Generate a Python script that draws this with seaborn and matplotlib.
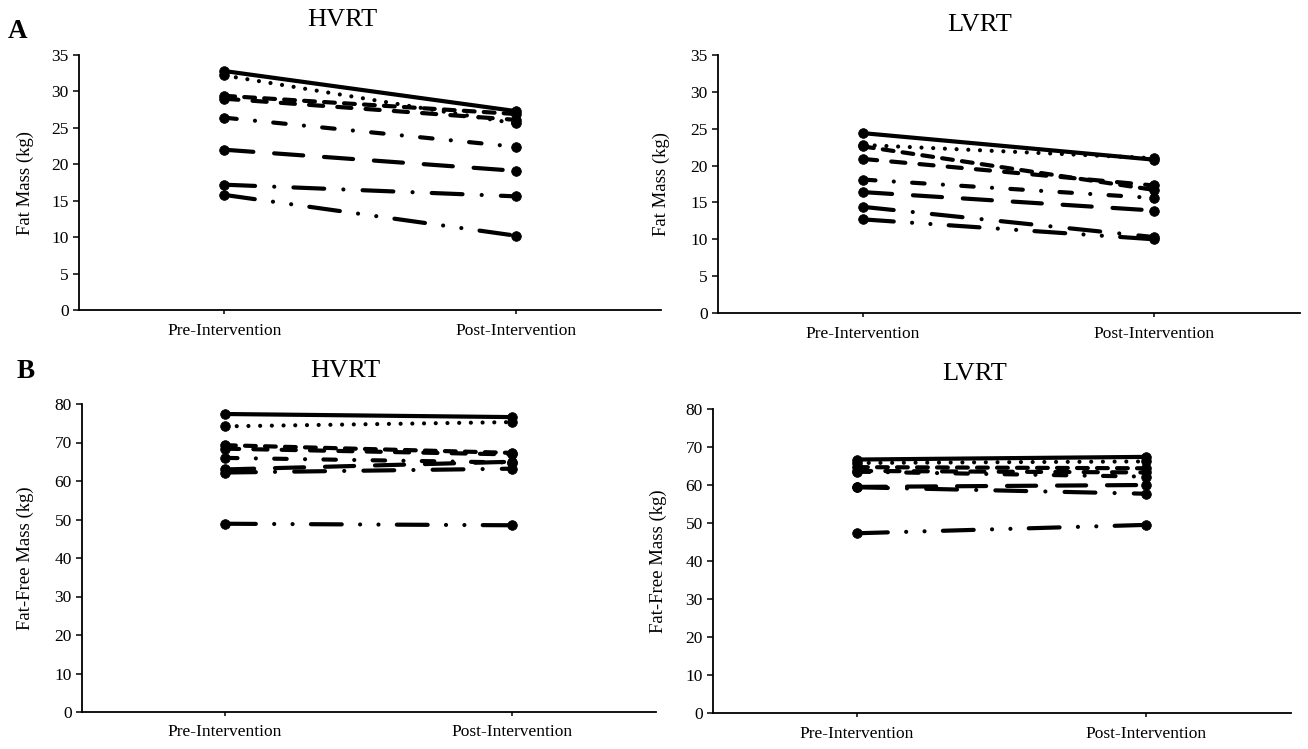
import numpy as np
import pandas as pd
import matplotlib
matplotlib.use("Agg")
import matplotlib.pyplot as plt
import seaborn as sns

# ---------------- data ----------------
times = ["Pre-Intervention", "Post-Intervention"]
participants = ["P1", "P2", "P3", "P4", "P5", "P6", "P7", "P8"]

hvrt_fm_pre = [32.8, 32.2, 29.4, 29.0, 26.4, 22.0, 17.2, 15.8]
hvrt_fm_post = [27.3, 25.6, 26.9, 26.1, 22.4, 19.1, 15.6, 10.2]

lvrt_fm_pre = [24.4, 22.8, 22.6, 20.9, 18.1, 16.4, 14.4, 12.7]
lvrt_fm_post = [20.8, 21.0, 16.7, 17.3, 15.6, 13.9, 10.3, 10.0]

hvrt_ffm_pre = [77.4, 74.2, 69.3, 68.4, 66.0, 63.0, 62.2, 48.9]
hvrt_ffm_post = [76.6, 75.3, 67.3, 66.9, 64.8, 65.0, 63.2, 48.5]

lvrt_ffm_pre = [66.7, 65.8, 64.7, 63.7, 63.5, 59.5, 59.4, 47.3]
lvrt_ffm_post = [67.4, 66.2, 64.4, 63.3, 62.2, 60.0, 57.7, 49.5]

panel_titles = ["HVRT", "LVRT", "HVRT", "LVRT"]
ylabels = ["Fat Mass (kg)", "Fat Mass (kg)", "Fat-Free Mass (kg)", "Fat-Free Mass (kg)"]
yticks_fm = [0, 5, 10, 15, 20, 25, 30, 35]
yticks_ffm = [0, 10, 20, 30, 40, 50, 60, 70, 80]

# ---------------- style ----------------
sns.set_theme(style="white")
plt.rcParams["font.family"] = ["Liberation Serif", "DejaVu Serif"]
plt.rcParams["text.color"] = "black"
plt.rcParams["axes.labelcolor"] = "black"
plt.rcParams["xtick.color"] = "black"
plt.rcParams["ytick.color"] = "black"

dash_styles = {
    "P1": "",
    "P2": (0.01, 2.8),
    "P3": (2.6, 2.2),
    "P4": (3.4, 3.4),
    "P5": (3.0, 4.4, 0.01, 4.4),
    "P6": (7.0, 5.0),
    "P7": (7.4, 4.6, 0.01, 4.6),
    "P8": (7.4, 4.4, 0.01, 4.4, 0.01, 4.4),
}
marker_styles = {p: "o" for p in participants}

W, H = 1308, 749
fig = plt.figure(figsize=(W / 100, H / 100), dpi=100)

# axes boxes in pixels: left, right, top, bottom
boxes = [
    (78.5, 661.5, 55, 310),
    (717.5, 1299.5, 55, 313),
    (81.5, 655.5, 404, 712),
    (712.5, 1290.5, 409, 713),
]
label_xy = [(-0.077, 0.5), (-0.082, 0.5), (-0.082, 0.5), (-0.078, 0.5)]

datasets = [
    (hvrt_fm_pre, hvrt_fm_post, yticks_fm),
    (lvrt_fm_pre, lvrt_fm_post, yticks_fm),
    (hvrt_ffm_pre, hvrt_ffm_post, yticks_ffm),
    (lvrt_ffm_pre, lvrt_ffm_post, yticks_ffm),
]

for i, ((l, r, t, b), (pre, post, yt)) in enumerate(zip(boxes, datasets)):
    ax = fig.add_axes([l / W, 1 - b / H, (r - l) / W, (b - t) / H])
    df = pd.DataFrame({
        "time": [times[0]] * len(pre) + [times[1]] * len(post),
        "value": list(pre) + list(post),
        "participant": participants + participants,
    })
    sns.lineplot(
        data=df, x="time", y="value", style="participant",
        dashes=dash_styles, markers=marker_styles, color="black",
        lw=3.0, ms=7, markeredgecolor="black", mew=0.5,
        dash_capstyle="round", solid_capstyle="round",
        estimator=None, errorbar=None, sort=False, legend=False, ax=ax,
    )
    ax.set_xlim(-0.5, 1.5)
    ax.set_ylim(yt[0], yt[-1])
    ax.set_yticks(yt)
    ax.set_xticks([0, 1])
    ax.set_xticklabels(times)
    ax.set_xlabel("")
    ax.set_ylabel(ylabels[i], fontsize=13.5, color="black")
    ax.yaxis.set_label_coords(*label_xy[i])
    for s in ["top", "right"]:
        ax.spines[s].set_visible(False)
    for s in ["left", "bottom"]:
        ax.spines[s].set_color("black")
        ax.spines[s].set_linewidth(1.3)
    ax.tick_params(axis="y", direction="out", length=4, width=1.1, color="black",
                   labelcolor="black", labelsize=12.5, pad=3, left=True)
    ax.tick_params(axis="x", direction="out", length=3, width=1.1, color="black",
                   labelcolor="black", labelsize=12.5, pad=6, bottom=True)
    ax.set_facecolor("white")
    ax.grid(False)

# titles and panel letters
title_pos = [(342, 20), (980, 25), (345, 371), (975, 374)]
for (x, y), txt in zip(title_pos, panel_titles):
    fig.text(x / W, 1 - y / H, txt, ha="center", va="center", fontsize=19, color="black")
fig.text(18 / W, 1 - 32 / H, "A", ha="center", va="center", fontsize=19.5,
         fontweight="bold", color="black")
fig.text(26 / W, 1 - 372 / H, "B", ha="center", va="center", fontsize=19.5,
         fontweight="bold", color="black")

fig.savefig("out.png", dpi=100, facecolor="white")
